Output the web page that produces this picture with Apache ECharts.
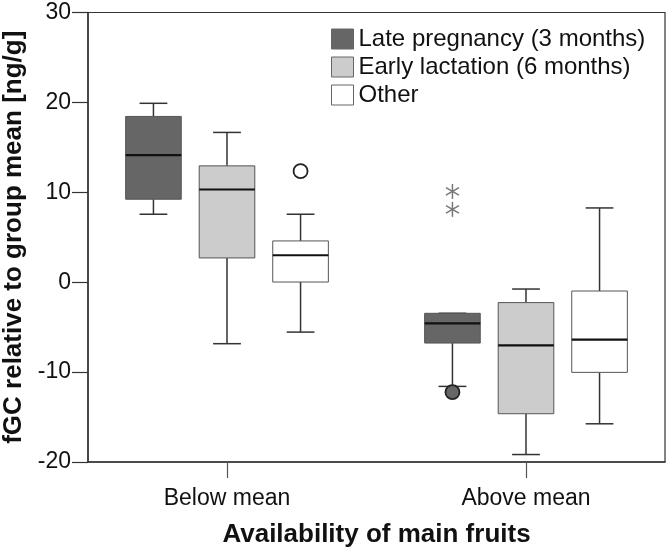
<!DOCTYPE html>
<html>
<head>
<meta charset="utf-8">
<script src="https://cdn.jsdelivr.net/npm/echarts@6/dist/echarts.min.js"></script>
<style>html,body{margin:0;padding:0;background:#fff}#c{width:672px;height:547px}</style>
</head>
<body>
<div id="c"></div>
<script>
// ---- data ----
const categories = ['Below mean', 'Above mean'];
const groupNames = ['Late pregnancy (3 months)', 'Early lactation (6 months)', 'Other'];
// [min, Q1, median, Q3, max] per category
const latePregnancy = [[7.56, 9.23, 14.13, 18.44, 19.9], [-11.59, -6.77, -4.58, -3.46, -3.46]];
const earlyLactation = [[-6.84, 2.7, 10.31, 12.94, 16.66], [-19.17, -14.63, -7.03, -2.27, -0.76]];
const otherGroup = [[-5.55, 0.02, 3.0, 4.59, 7.56], [-15.75, -10.03, -6.39, -0.98, 8.26]];
// outliers: [categoryIndex, groupIndex, value]
const outliers = [[0, 2, 12.35], [1, 0, -12.23]];
// extreme values (stars): [categoryIndex, groupIndex, value]
const extremes = [[1, 0, 10.1], [1, 0, 8.1]];
const yTicks = [-20, -10, 0, 10, 20, 30];

// ---- styles ----
const fills = ['#666666', '#cccccc', '#ffffff'];
const OFFSETS = [-0.246, 0, 0.246];
const BOX_W = 0.186;
const FONT = 'Liberation Sans, Arial, sans-serif';

function boxData(arr) { return arr.map((v, i) => [i].concat(v)); }

function renderBox(params, api) {
  const g = params.seriesIndex;
  const cat = api.value(0);
  const unit = api.size([1, 0])[0];
  const off = OFFSETS[g] * unit;
  const bw = BOX_W * unit;
  const p = [1, 2, 3, 4, 5].map(k => api.coord([cat, api.value(k)]));
  const cx = p[0][0] + off;
  const yMin = p[0][1], yQ1 = p[1][1], yMed = p[2][1], yQ3 = p[3][1], yMax = p[4][1];
  const line = '#333333';
  const children = [
    {type: 'line', shape: {x1: cx, y1: yQ3, x2: cx, y2: yMax}, style: {stroke: line, lineWidth: 1.5}},
    {type: 'line', shape: {x1: cx, y1: yQ1, x2: cx, y2: yMin}, style: {stroke: line, lineWidth: 1.5}},
    {type: 'line', shape: {x1: cx - bw / 4, y1: yMax, x2: cx + bw / 4, y2: yMax}, style: {stroke: line, lineWidth: 1.5}},
    {type: 'line', shape: {x1: cx - bw / 4, y1: yMin, x2: cx + bw / 4, y2: yMin}, style: {stroke: line, lineWidth: 1.5}},
    {type: 'rect', shape: {x: cx - bw / 2, y: yQ3, width: bw, height: yQ1 - yQ3}, style: {fill: fills[g], stroke: '#555555', lineWidth: 1}},
    {type: 'line', shape: {x1: cx - bw / 2, y1: yMed, x2: cx + bw / 2, y2: yMed}, style: {stroke: '#111111', lineWidth: 2.2}}
  ];
  return {type: 'group', children: children};
}

function renderOutlier(params, api) {
  const cat = api.value(0), g = api.value(1);
  const unit = api.size([1, 0])[0];
  const pt = api.coord([cat, api.value(2)]);
  const cx = pt[0] + OFFSETS[g] * unit;
  return {type: 'circle', shape: {cx: cx, cy: pt[1], r: 7},
    style: {fill: g === 0 ? fills[0] : '#ffffff', stroke: '#222222', lineWidth: 1.8}};
}

function renderStar(params, api) {
  const cat = api.value(0), g = api.value(1);
  const unit = api.size([1, 0])[0];
  const pt = api.coord([cat, api.value(2)]);
  const cx = pt[0] + OFFSETS[g] * unit, cy = pt[1];
  const r = 7.5;
  const children = [];
  for (let k = 0; k < 3; k++) {
    const a = Math.PI / 2 + k * Math.PI / 3;
    children.push({type: 'line', shape: {x1: cx - r * Math.cos(a), y1: cy - r * Math.sin(a), x2: cx + r * Math.cos(a), y2: cy + r * Math.sin(a)},
      style: {stroke: '#777777', lineWidth: 1.5}});
  }
  return {type: 'group', children: children};
}

const groupData = [latePregnancy, earlyLactation, otherGroup];
const series = groupData.map((arr, g) => ({
  name: groupNames[g],
  type: 'custom',
  renderItem: renderBox,
  data: boxData(arr),
  encode: {x: 0, y: [1, 2, 3, 4, 5]},
  itemStyle: {color: fills[g], borderColor: '#555', borderWidth: 1},
  z: 2
}));
series.push({type: 'custom', name: 'outliers', renderItem: renderOutlier, data: outliers, encode: {x: 0, y: 2}, z: 3});
series.push({type: 'custom', name: 'extremes', renderItem: renderStar, data: extremes, encode: {x: 0, y: 2}, z: 3});

const chart = echarts.init(document.getElementById('c'), null, {renderer: 'canvas'});
chart.setOption({
  animation: false,
  backgroundColor: '#ffffff',
  textStyle: {fontFamily: FONT},
  grid: {left: 88, right: 7, top: 12.5, bottom: 85, show: true, borderColor: '#333', borderWidth: 1.2,
    containLabel: false, outerBoundsMode: 'none'},
  legend: {
    orient: 'vertical', left: 331, top: 27, padding: 0, itemGap: 4,
    itemWidth: 22, itemHeight: 20, icon: 'rect',
    textStyle: {fontSize: 24, color: '#111', fontFamily: FONT},
    data: groupNames.map((n, g) => ({name: n, itemStyle: {color: fills[g], borderColor: '#666', borderWidth: 1}}))
  },
  xAxis: {
    type: 'value', min: -0.4649, max: 1.4649,
    name: 'Availability of main fruits', nameLocation: 'middle', nameGap: 60,
    nameTextStyle: {fontSize: 26, fontWeight: 'bold', color: '#111', fontFamily: FONT},
    axisLine: {onZero: false, lineStyle: {color: '#333', width: 1.5}},
    axisTick: {show: true, length: 16, customValues: [0, 1], lineStyle: {color: '#555', width: 1.2}},
    axisLabel: {customValues: [0, 1], margin: 25, fontSize: 23, color: '#111', fontFamily: FONT,
      formatter: v => categories[Math.round(v)] || ''},
    splitLine: {show: false}
  },
  yAxis: {
    type: 'value', min: yTicks[0], max: yTicks[yTicks.length - 1], interval: 10,
    name: 'fGC relative to group mean [ng/g]', nameLocation: 'middle', nameGap: 50,
    nameTextStyle: {fontSize: 26, fontWeight: 'bold', color: '#111', fontFamily: FONT},
    axisLine: {show: true, onZero: false, lineStyle: {color: '#333', width: 1.5}},
    axisTick: {show: true, length: 16, lineStyle: {color: '#333', width: 1.2}},
    axisLabel: {margin: 17, fontSize: 23, color: '#111', fontFamily: FONT},
    splitLine: {show: false}
  },
  series: series
});
</script>
</body>
</html>
